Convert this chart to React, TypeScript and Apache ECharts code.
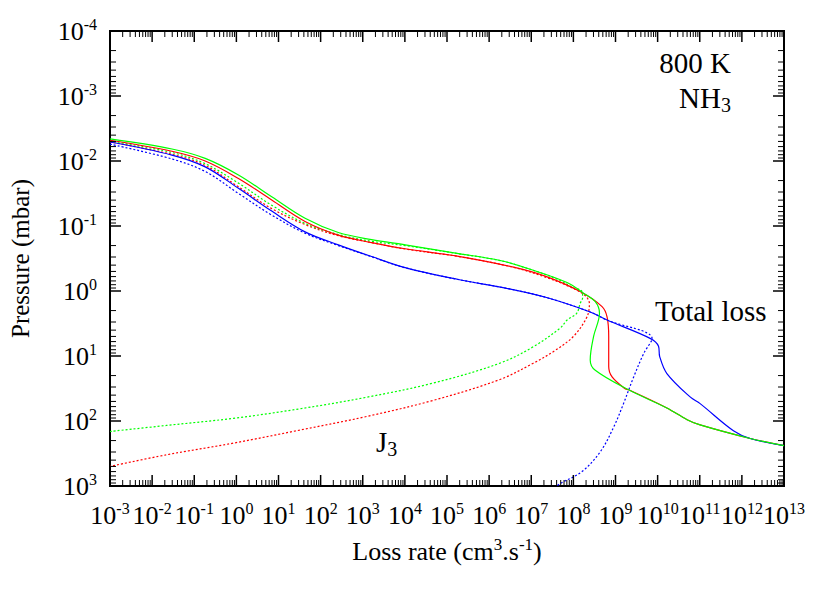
import React, { useEffect, useRef } from 'react';
import * as echarts from 'echarts';

// Total loss curves [loss rate, pressure]
const totalGreen: [number, number][] = [
  [1e-3, 4.57e-3], [0.0295, 6.53e-3], [0.182, 9.1e-3], [1.12, 1.64e-2], [6.9, 3.55e-2],
  [42.7, 7.6e-2], [263, 0.126], [1.62e3, 0.162], [1.02e4, 0.195], [1.74e5, 0.263],
  [1.82e6, 0.339], [7.94e6, 0.447], [7.08e7, 0.741], [1.74e8, 1.08], [3.31e8, 1.46],
  [4.17e8, 2.2], [3.02e8, 5.0], [2.51e8, 11.5], [3.31e8, 16.6], [2.04e9, 33.1],
  [1.66e10, 63.1], [5.01e10, 95.5], [1.02e11, 115], [1.58e12, 186], [1e13, 240],
];
const totalRed: [number, number][] = [
  [1e-3, 4.79e-3], [0.0295, 7.08e-3], [0.182, 1.0e-2], [1.12, 1.86e-2], [6.9, 3.98e-2],
  [42.7, 8.5e-2], [263, 0.138], [1.62e3, 0.18], [1.02e4, 0.224], [1.74e5, 0.29],
  [3.8e6, 0.43], [2.3e7, 0.6], [1.45e8, 1.02], [4.8e8, 1.74], [6.3e8, 2.5], [6.9e8, 5.0],
  [6.9e8, 14.5], [8.3e8, 21], [1.7e9, 32], [2.04e9, 33.1], [1.66e10, 63.1], [5.01e10, 95.5],
  [1.02e11, 115], [1.58e12, 186], [1e13, 240],
];
const totalBlue: [number, number][] = [
  [1e-3, 5.1e-3], [0.0295, 8.1e-3], [0.182, 1.23e-2], [1.12, 2.63e-2], [6.9, 5.9e-2],
  [42.7, 0.123], [263, 0.195], [1.62e3, 0.295], [1.02e4, 0.437], [1.74e5, 0.66],
  [2.6e6, 0.91], [2.3e7, 1.26], [2.5e8, 2.1], [6.3e8, 2.8], [6.8e9, 5.4], [1.05e10, 7.1],
  [1.12e10, 10.2], [1.66e10, 18.6], [6.0e10, 43], [1.02e11, 54], [6.3e11, 141],
  [1.58e12, 186], [1e13, 240],
];
// J3 photolysis curves (dotted)
const j3Green: [number, number][] = [
  [1e-3, 4.9e-3], [0.0295, 7.4e-3], [0.182, 1.1e-2], [1.12, 2.19e-2], [6.9, 4.8e-2],
  [42.7, 9.1e-2], [263, 0.135], [1.62e3, 0.172], [1.02e4, 0.2], [1.74e5, 0.265],
  [1.82e6, 0.34], [7.94e6, 0.447], [4e7, 0.65], [1e8, 0.89], [1.58e8, 1.0], [1.66e8, 1.26],
  [1.45e8, 1.55], [1.2e8, 2.2], [7.1e7, 2.8], [4.9e7, 3.7], [1.12e7, 7.2], [1.8e6, 12.9],
  [4.8e4, 26], [1.26e3, 43], [32, 65], [0.85, 91], [0.022, 117], [1e-3, 145],
];
const j3Red: [number, number][] = [
  [1e-3, 5.1e-3], [0.0295, 7.9e-3], [0.182, 1.17e-2], [1.12, 2.5e-2], [6.9, 5.4e-2],
  [42.7, 9.5e-2], [263, 0.141], [1.62e3, 0.18], [1.02e4, 0.226], [1.74e5, 0.292],
  [3.8e6, 0.432], [2.3e7, 0.62], [7.9e7, 0.85], [1.58e8, 1.07], [2.1e8, 1.26], [2.4e8, 1.55],
  [2.1e8, 2.5], [1e8, 5.0], [3.4e7, 8.5], [1.12e7, 12.9], [1.8e6, 23], [4.8e4, 48],
  [1.26e3, 85], [32, 138], [0.85, 219], [0.022, 331], [1e-3, 500],
];
const j3Blue: [number, number][] = [
  [1e-3, 5.5e-3], [0.0295, 9.3e-3], [0.182, 1.45e-2], [1.12, 3.16e-2], [6.9, 6.8e-2],
  [42.7, 0.129], [263, 0.2], [1.62e3, 0.297], [1.02e4, 0.44], [1.74e5, 0.66], [2.6e6, 0.91],
  [2.3e7, 1.26], [2.5e8, 2.1], [6.3e8, 2.8], [7.4e9, 5.4], [4.7e9, 9.1], [2.7e9, 21],
  [1.55e9, 54], [9.1e8, 123], [4.4e8, 295], [1.6e8, 600], [4.9e7, 912], [4e7, 1000],
];

const X_MIN_EXP = -3;
const X_MAX_EXP = 13;
const Y_MIN_EXP = -4;
const Y_MAX_EXP = 3;

const FONT = '"Liberation Serif", "Times New Roman", serif';

function logTicks(minExp: number, maxExp: number): [number, number][] {
  const out: [number, number][] = [];
  for (let e = minExp; e < maxExp; e++) {
    for (let k = 1; k < 10; k++) out.push([k * Math.pow(10, e), k === 1 ? 1 : 0]);
  }
  out.push([Math.pow(10, maxExp), 1]);
  return out;
}

const labelRich = {
  b: { fontSize: 26, fontFamily: FONT, color: '#000', lineHeight: 30 },
  s: { fontSize: 16, fontFamily: FONT, color: '#000', lineHeight: 15, verticalAlign: 'top' as const },
};
const fmt = (v: number) => `{b|10}{s|${Math.round(Math.log10(v))}}`;

export default function App() {
  const ref = useRef<HTMLDivElement>(null);
  useEffect(() => {
    const chart = echarts.init(ref.current!, undefined, { renderer: 'svg' });
    const xt = logTicks(X_MIN_EXP, X_MAX_EXP);
    const yt = logTicks(Y_MIN_EXP, Y_MAX_EXP);
    const line = (data: [number, number][], color: string, dotted: boolean, z: number) => ({
      type: 'line',
      data,
      showSymbol: false,
      symbol: 'none',
      smooth: 0.35,
      z,
      lineStyle: { color, width: 1.2, type: dotted ? [2, 2] : 'solid' },
      silent: true,
    });
    chart.setOption({
      animation: false,
      backgroundColor: '#fff',
      grid: { left: 110, top: 31, right: 46, bottom: 108, show: true, borderColor: '#000', borderWidth: 2, backgroundColor: 'transparent' },
      xAxis: {
        type: 'log',
        logBase: 10,
        min: Math.pow(10, X_MIN_EXP),
        max: Math.pow(10, X_MAX_EXP),
        interval: 1,
        axisLine: { show: false },
        axisTick: { show: false },
        splitLine: { show: false },
        axisLabel: { formatter: fmt, rich: labelRich, margin: 14, showMinLabel: true, showMaxLabel: true, hideOverlap: false },
        name: '{b|Loss rate (cm}{s|3}{b|.s}{s|-1}{b|)}',
        nameLocation: 'middle',
        nameGap: 50,
        nameTextStyle: {
          rich: {
            b: { fontSize: 26, fontFamily: FONT, color: '#000', lineHeight: 30 },
            s: { fontSize: 17, fontFamily: FONT, color: '#000', lineHeight: 16, verticalAlign: 'top' },
          },
        },
      },
      yAxis: {
        type: 'log',
        logBase: 10,
        inverse: true,
        min: Math.pow(10, Y_MIN_EXP),
        max: Math.pow(10, Y_MAX_EXP),
        interval: 1,
        axisLine: { show: false },
        axisTick: { show: false },
        splitLine: { show: false },
        axisLabel: { formatter: fmt, rich: labelRich, margin: 13, showMinLabel: true, showMaxLabel: true },
        name: 'Pressure (mbar)',
        nameLocation: 'middle',
        nameGap: 77,
        nameRotate: 90,
        nameTextStyle: { fontSize: 25, fontFamily: FONT, color: '#000' },
      },
      series: [
        line(j3Blue, '#0000ff', true, 2),
        line(j3Red, '#ff0000', true, 2),
        line(j3Green, '#00ff00', true, 2),
        line(totalRed, '#ff0000', false, 3),
        line(totalBlue, '#0000ff', false, 3),
        line(totalGreen, '#00ff00', false, 4),
        {
          type: 'custom',
          silent: true,
          z: 5,
          data: xt.map(([v, m]) => [v, 1, m]),
          encode: { x: 0, y: 1 },
          renderItem: (params: any, api: any) => {
            const v = api.value(0);
            const major = api.value(2) === 1;
            const p = api.coord([v, 1]);
            const cs = params.coordSys;
            const len = major ? 11 : 6;
            const st = { stroke: '#000', lineWidth: major ? 1.5 : 1 };
            return {
              type: 'group',
              children: [
                { type: 'line', shape: { x1: p[0], y1: cs.y + cs.height, x2: p[0], y2: cs.y + cs.height - len }, style: st },
                { type: 'line', shape: { x1: p[0], y1: cs.y, x2: p[0], y2: cs.y + len }, style: st },
              ],
            };
          },
        },
        {
          type: 'custom',
          silent: true,
          z: 5,
          data: yt.map(([v, m]) => [1, v, m]),
          encode: { x: 0, y: 1 },
          renderItem: (params: any, api: any) => {
            const v = api.value(1);
            const major = api.value(2) === 1;
            const p = api.coord([1, v]);
            const cs = params.coordSys;
            const len = major ? 11 : 6;
            const st = { stroke: '#000', lineWidth: major ? 1.5 : 1 };
            return {
              type: 'group',
              children: [
                { type: 'line', shape: { x1: cs.x, y1: p[1], x2: cs.x + len, y2: p[1] }, style: st },
                { type: 'line', shape: { x1: cs.x + cs.width, y1: p[1], x2: cs.x + cs.width - len, y2: p[1] }, style: st },
              ],
            };
          },
        },
      ],
      graphic: [
        {
          type: 'text', x: 731, y: 63, z: 10,
          style: { text: '800 K', fontSize: 29, fontFamily: FONT, fill: '#000', textAlign: 'right', textVerticalAlign: 'middle' },
        },
        {
          type: 'text', x: 731, y: 98, z: 10,
          style: {
            text: '{a|NH}{c|3}', textAlign: 'right', textVerticalAlign: 'middle',
            rich: {
              a: { fontSize: 29, fontFamily: FONT, fill: '#000', lineHeight: 34 },
              c: { fontSize: 20, fontFamily: FONT, fill: '#000', lineHeight: 20, verticalAlign: 'bottom' },
            },
          },
        },
        {
          type: 'text', x: 655, y: 311, z: 10,
          style: { text: 'Total loss', fontSize: 29, fontFamily: FONT, fill: '#000', textAlign: 'left', textVerticalAlign: 'middle' },
        },
        {
          type: 'text', x: 376, y: 442, z: 10,
          style: {
            text: '{a|J}{c|3}', textAlign: 'left', textVerticalAlign: 'middle',
            rich: {
              a: { fontSize: 29, fontFamily: FONT, fill: '#000', lineHeight: 34 },
              c: { fontSize: 20, fontFamily: FONT, fill: '#000', lineHeight: 20, verticalAlign: 'bottom' },
            },
          },
        },
      ],
    });
    return () => chart.dispose();
  }, []);
  return <div ref={ref} style={{ position: 'fixed', left: 0, top: 0, width: 830, height: 594 }} />;
}
